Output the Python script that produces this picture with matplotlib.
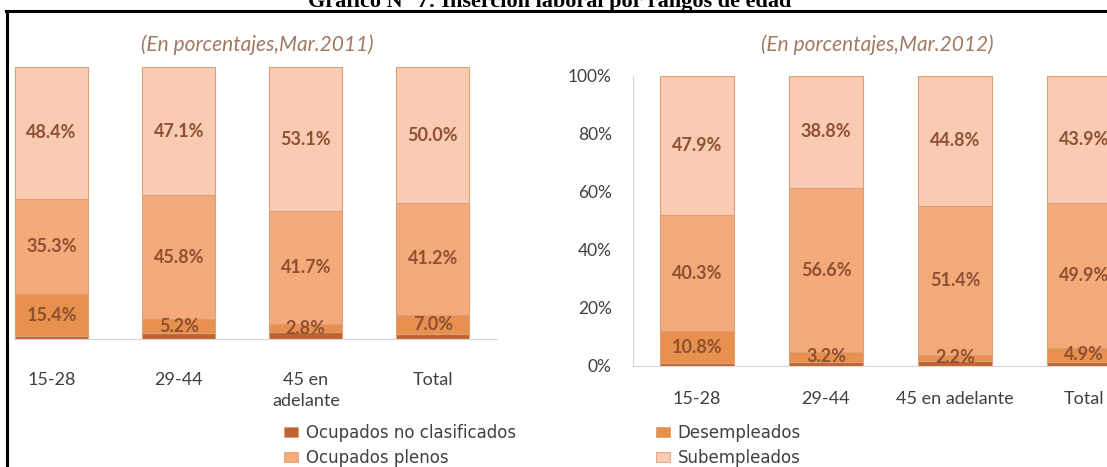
import numpy as np
import matplotlib
matplotlib.use("Agg")
import matplotlib.pyplot as plt
from matplotlib.lines import Line2D
from matplotlib.patches import Patch

W, H = 1107, 467

title = "Gráfico N° 7: Inserción laboral por rangos de edad"
sub_2011 = "(En porcentajes,Mar.2011)"
sub_2012 = "(En porcentajes,Mar.2012)"

categories_2011 = ["15-28", "29-44", "45 en\nadelante", "Total"]
categories_2012 = ["15-28", "29-44", "45 en adelante", "Total"]
series = ["Ocupados no clasificados", "Desempleados", "Ocupados plenos", "Subempleados"]

no_clasif_2011 = [0.9, 1.9, 2.4, 1.8]
desemp_2011 = [15.4, 5.2, 2.8, 7.0]
plenos_2011 = [35.3, 45.8, 41.7, 41.2]
subemp_2011 = [48.4, 47.1, 53.1, 50.0]

no_clasif_2012 = [1.0, 1.4, 1.6, 1.3]
desemp_2012 = [10.8, 3.2, 2.2, 4.9]
plenos_2012 = [40.3, 56.6, 51.4, 49.9]
subemp_2012 = [47.9, 38.8, 44.8, 43.9]

colors = ["#bd6430", "#e8914f", "#f5aa7c", "#f8cbb2"]
edge = "#dd9f78"
lbl_col = "#8e5031"
tick_col = "#404040"
axis_col = "#d6d6d6"


def stacked(ax, cats, layers):
    x = np.arange(len(cats))
    bottom = np.zeros(len(cats))
    for i, vals in enumerate(layers):
        vals = np.array(vals)
        ax.bar(x, vals, 0.575, bottom=bottom, color=colors[i], edgecolor=edge, lw=0.8, zorder=2)
        if i > 0:
            for xi, b, v in zip(x, bottom, vals):
                ax.text(xi, b + v / 2, f"{v:.1f}%", ha="center", va="center",
                        fontsize=13, fontweight="bold", family="Lato", color=lbl_col, zorder=3)
        bottom += vals
    ax.set_xticks(x)
    ax.set_xticklabels(cats, fontsize=13, family="Lato", color=tick_col, linespacing=1.4)
    ax.set_ylim(0, 100)
    for s in ["top", "right", "left"]:
        ax.spines[s].set_visible(False)
    ax.spines["bottom"].set_color(axis_col)
    ax.tick_params(axis="x", length=0)


fig = plt.figure(figsize=(W / 100, H / 100), dpi=100)
fig.patch.set_facecolor("white")

# left panel (2011), its y axis was cropped away in the original
ax1 = fig.add_axes([13.5 / W, (H - 338.5) / H, 483 / W, 271.2 / H])
stacked(ax1, categories_2011, [no_clasif_2011, desemp_2011, plenos_2011, subemp_2011])
ax1.set_xlim(-0.3, 3.5)
ax1.set_yticks([])
ax1.tick_params(axis="x", pad=24)

# right panel (2012), runs past the right edge
ax2 = fig.add_axes([632.5 / W, (H - 365.7) / H, 516 / W, 290 / H])
stacked(ax2, categories_2012, [no_clasif_2012, desemp_2012, plenos_2012, subemp_2012])
ax2.set_xlim(-0.5, 3.5)
ax2.spines["left"].set_visible(True)
ax2.spines["left"].set_color(axis_col)
ax2.set_yticks(np.arange(0, 101, 20))
ax2.set_yticklabels([f"{v}%" for v in range(0, 101, 20)], fontsize=12.5, family="Lato", color=tick_col)
ax2.tick_params(axis="y", length=0, pad=15)
ax2.tick_params(axis="x", pad=18)

fig.text(257 / W, 1 - 45 / H, sub_2011, ha="center", va="center", fontsize=15,
         family="Lato", style="italic", color="#a07a62")
fig.text(877 / W, 1 - 45 / H, sub_2012, ha="center", va="center", fontsize=15,
         family="Lato", style="italic", color="#a07a62")

# title is cut at the top edge in the original crop
fig.text(550 / W, 1 - 7 / H, title, ha="center", va="baseline", fontsize=16,
         family="Liberation Serif", fontweight="bold", color="black")

# frame lines of the original box
fig.add_artist(Line2D([6.8 / W, 6.8 / W], [0, 1 - 10.5 / H], color="black", lw=2.2))
fig.add_artist(Line2D([5.7 / W, 1], [1 - 10.5 / H, 1 - 10.5 / H], color="black", lw=2.2))

order = [0, 2, 1, 3]
handles = [Patch(facecolor=colors[i], edgecolor=edge, lw=0.6) for i in order]
fig.legend(handles, [series[i] for i in order], ncol=2, loc="upper left",
           bbox_to_anchor=(284 / W, 1 - 424 / H), frameon=False,
           prop=dict(family="DejaVu Sans", size=12), labelcolor=tick_col,
           handlelength=0.85, handleheight=0.5, handletextpad=0.45,
           columnspacing=8.4, labelspacing=0.42, borderpad=0, borderaxespad=0)

fig.savefig("out.png", dpi=100, facecolor="white")
